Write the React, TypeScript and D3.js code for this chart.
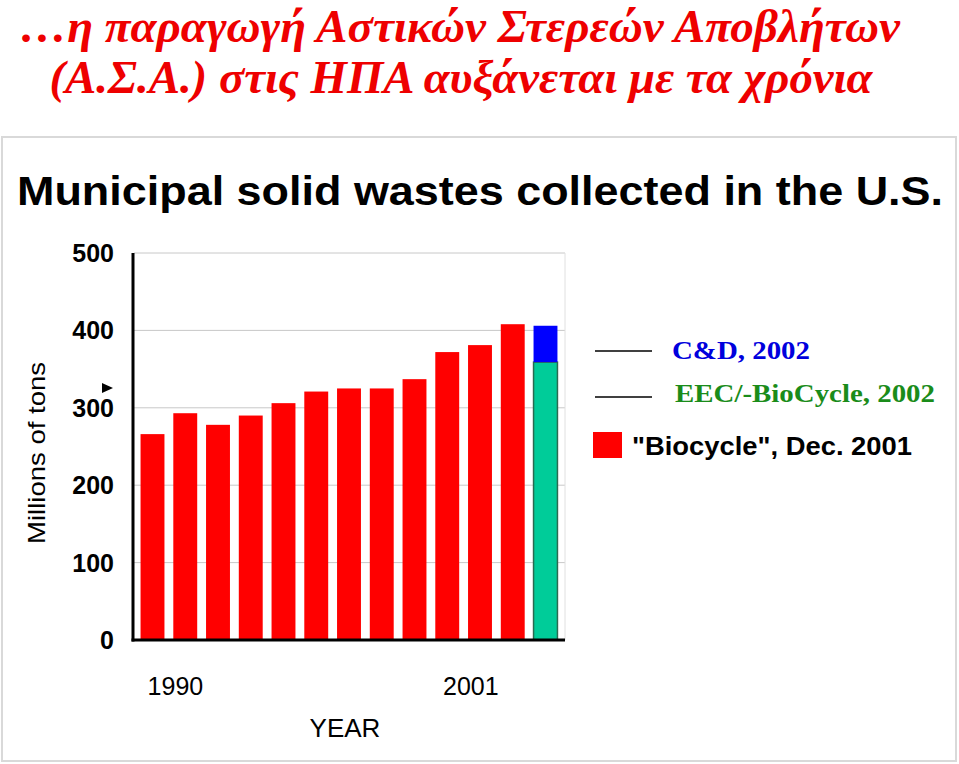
import React from 'react';
import * as d3 from 'd3';

const years = ['1990','1991','1992','1993','1994','1995','1996','1997','1998','1999','2000','2001','2002'];
const biocycle = [266, 293, 278, 290, 306, 321, 325, 325, 337, 372, 381, 408];
const eec2002 = [359];
const cd2002Total = [406];
const yTicks = [0, 100, 200, 300, 400, 500];
const xTickLabels = ['1990', '2001'];
const xTickAt = [0.7, 9.72];
const legendItems = ['C&D, 2002', 'EEC/-BioCycle, 2002', '"Biocycle", Dec. 2001'];
const titleLines = ['…η παραγωγή Αστικών Στερεών Αποβλήτων', '(Α.Σ.Α.) στις ΗΠΑ αυξάνεται με τα χρόνια'];
const subtitle = 'Municipal solid wastes collected in the U.S.';

const W = 959, H = 764;
const plotL = 134, plotR = 564, plotT = 253, plotB = 640;

export default function App() {
  const x = d3.scaleBand<string>().domain(years).range([plotL, plotR]).paddingInner(0.27).paddingOuter(0.2);
  const y = d3.scaleLinear().domain([0, 500]).range([plotB, plotT]);
  const bw = x.bandwidth();
  const step = x.step();
  const lastYear = years[years.length - 1];
  const arial = 'Arial, "Liberation Sans", sans-serif';
  const serif = '"Times New Roman", "Liberation Serif", serif';
  return (
    <svg width={W} height={H} style={{ position: 'absolute', left: 0, top: 0, background: '#fff' }}>
      {/* Greek title */}
      <text x={460} y={42} textAnchor="middle" fontFamily={serif} fontStyle="italic" fontWeight="bold" fontSize={46} fill="#ee0000" textLength={880} lengthAdjust="spacingAndGlyphs">{titleLines[0]}</text>
      <text x={461} y={93} textAnchor="middle" fontFamily={serif} fontStyle="italic" fontWeight="bold" fontSize={47} fill="#ee0000" textLength={823} lengthAdjust="spacingAndGlyphs">{titleLines[1]}</text>
      {/* frame */}
      <rect x={2} y={137} width={954} height={624} fill="none" stroke="#d9d9d9" strokeWidth={2} />
      <text x={480} y={205} textAnchor="middle" fontFamily={arial} fontWeight="bold" fontSize={41} fill="#000" textLength={926} lengthAdjust="spacingAndGlyphs">{subtitle}</text>
      {/* gridlines */}
      {yTicks.filter(t => t > 0).map(t => (
        <line key={'g' + t} x1={plotL} x2={plotR + 1} y1={y(t)} y2={y(t)} stroke="#c8c8c8" strokeWidth={1} />
      ))}
      <line x1={plotR + 1} x2={plotR + 1} y1={plotT} y2={plotB} stroke="#e0e0e0" strokeWidth={1} />
      {/* red bars */}
      {biocycle.map((v, i) => (
        <rect key={years[i]} x={x(years[i])} y={y(v)} width={bw} height={y(0) - y(v)} fill="#ff0000" />
      ))}
      {/* 2002 stacked */}
      <rect x={x(lastYear)} y={y(eec2002[0])} width={bw} height={y(0) - y(eec2002[0])} fill="#00cc99" stroke="#2a6a50" strokeWidth={1.5} />
      <rect x={x(lastYear)} y={y(cd2002Total[0])} width={bw} height={y(eec2002[0]) - y(cd2002Total[0])} fill="#0000ff" />
      {/* axes */}
      <line x1={plotL - 1} x2={plotL - 1} y1={plotT} y2={plotB + 1.5} stroke="#000" strokeWidth={3} />
      <line x1={plotL - 2.5} x2={plotR + 1} y1={plotB} y2={plotB} stroke="#000" strokeWidth={3} />
      {/* y tick labels */}
      {yTicks.map(t => (
        <text key={'t' + t} x={114} y={y(t) + 9} textAnchor="end" fontFamily={arial} fontWeight="bold" fontSize={25} fill="#000">{t}</text>
      ))}
      <path d="M102,383 L113,388 L102,393 Z" fill="#000" />
      <text transform={`translate(45,453) rotate(-90)`} textAnchor="middle" fontFamily={arial} fontSize={24} fill="#000" textLength={182} lengthAdjust="spacingAndGlyphs">Millions of tons</text>
      {/* x labels */}
      {xTickLabels.map((lab, i) => (
        <text key={lab} x={(x(years[0]) as number) + bw / 2 + xTickAt[i] * step} y={695} textAnchor="middle" fontFamily={arial} fontSize={25} fill="#000">{lab}</text>
      ))}
      <text x={345} y={737} textAnchor="middle" fontFamily={arial} fontSize={26} fill="#000">YEAR</text>
      {/* legend */}
      <line x1={595} x2={652} y1={351} y2={351} stroke="#000" strokeWidth={1.5} />
      <text x={672} y={359} fontFamily={serif} fontWeight="bold" fontSize={26} fill="#0000dd" textLength={138} lengthAdjust="spacingAndGlyphs">{legendItems[0]}</text>
      <line x1={595} x2={652} y1={397} y2={397} stroke="#000" strokeWidth={1.5} />
      <text x={675} y={402} fontFamily={serif} fontWeight="bold" fontSize={26} fill="#1a8c1a" textLength={260} lengthAdjust="spacingAndGlyphs">{legendItems[1]}</text>
      <rect x={593} y={432} width={29} height={26} fill="#ff0000" />
      <text x={632} y={455} fontFamily={arial} fontWeight="bold" fontSize={26} fill="#000" textLength={280} lengthAdjust="spacingAndGlyphs">{legendItems[2]}</text>
    </svg>
  );
}
